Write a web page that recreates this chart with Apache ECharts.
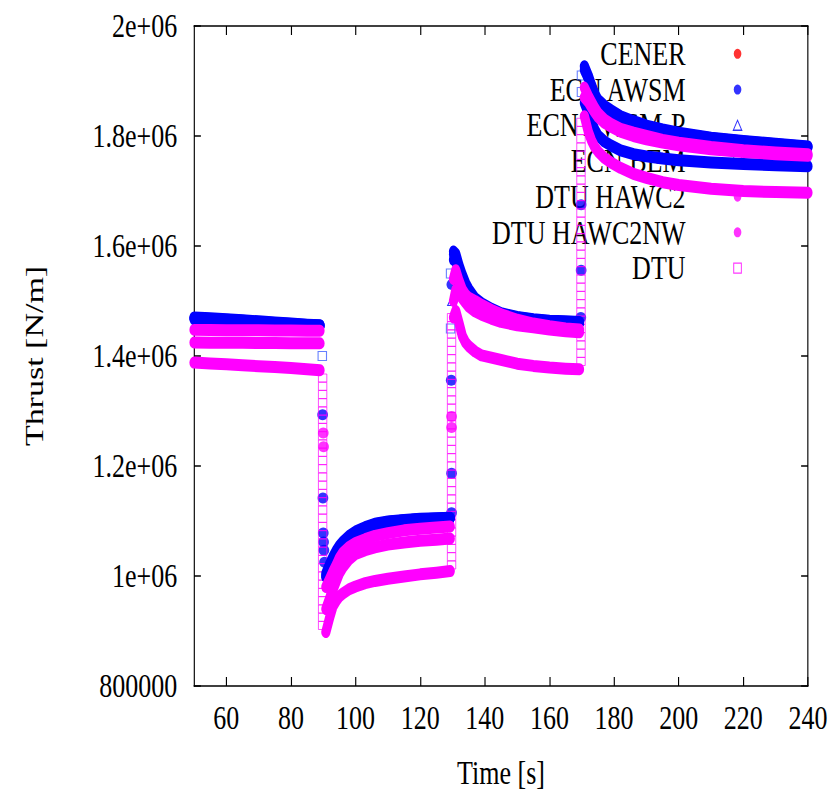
<!DOCTYPE html>
<html><head><meta charset="utf-8">
<script src="https://cdn.jsdelivr.net/npm/echarts@6/dist/echarts.min.js"></script>
<style>
html,body{margin:0;padding:0;background:#fff;overflow:hidden;}
#wrap{width:834px;height:801px;overflow:hidden;position:relative;background:#fff;}
#chart{height:801px;transform-origin:0 0;}
</style></head><body><div id="wrap"><div id="chart"></div></div>
<script>
// ---------- data (N/m vs s) ----------
const seriesNames = ['CENER','ECN AWSM','ECN AWSM-P','ECN BEM','DTU HAWC2','DTU HAWC2NW','DTU'];
const xTicks = [60,80,100,120,140,160,180,200,220,240];
const yTicks = [800000,1000000,1200000,1400000,1600000,1800000,2000000];
const yTickLabels = ['800000','1e+06','1.2e+06','1.4e+06','1.6e+06','1.8e+06','2e+06'];

const seg1T = [50,55,60,65,70,75,80,85,89];
const seg2T = [90.8,92,93,94,95,96,98,100,103,106,110,115,120,125,129.3];
const seg3T = [130.3,131,132,133,134,135,137,139,142,145,150,155,160,165,169.3];
const seg4T = [170.8,172,173,174,175,177,179,182,186,190,195,200,210,220,230,240];

const awsm1 = [1470000,1468500,1467000,1465000,1463000,1461000,1459000,1457000,1456000];
const awsm2 = [1005000,1022000,1035000,1046000,1055000,1062000,1073000,1081000,1089000,1095000,1099000,1102000,1104000,1105000,1106000];
const awsm3 = [1590000,1586000,1565000,1548000,1533000,1522000,1505000,1496000,1486000,1478000,1471000,1467000,1464000,1463000,1462000];
const awsm4 = [1927000,1910000,1893000,1877000,1866000,1855000,1847000,1836000,1827000,1819000,1812000,1806000,1797000,1791000,1786000,1781000];

const awsmp1 = [1469000,1467500,1466000,1464000,1462000,1460000,1458000,1456500,1455000];
const awsmp2 = [998000,1012000,1026000,1038000,1048000,1056000,1068000,1077000,1086000,1093000,1098000,1101000,1103000,1104000,1105000];
const awsmp3 = [1585000,1580000,1560000,1543000,1529000,1518000,1502000,1493000,1484000,1476000,1470000,1466000,1463000,1462000,1461000];
const awsmp4 = [1920000,1905000,1888000,1873000,1862000,1852000,1844000,1834000,1825000,1817000,1810000,1804000,1796000,1790000,1785000,1780000];

const bem1 = [1467000,1465500,1464000,1462500,1461000,1459000,1457500,1456000,1455000];
const bem2 = [1000000,1016000,1029000,1040000,1050000,1058000,1070000,1079000,1087000,1094000,1098000,1101000,1103000,1104000,1105000];
const bem3 = [1575000,1572000,1555000,1540000,1527000,1516000,1500000,1491000,1482000,1475000,1469000,1465000,1462000,1461000,1460000];
const bem4 = [1860000,1842000,1826000,1812000,1801000,1790000,1783000,1774000,1767000,1763000,1759000,1756000,1752000,1749000,1747000,1745000];

const hawc1 = [1447500,1447300,1447000,1446800,1446600,1446400,1446200,1446000,1445800];
const hawc2 = [980000,995000,1008000,1020000,1033000,1042000,1053000,1060000,1067000,1073000,1078000,1083000,1086000,1088000,1090000];
const hawc3 = [1540000,1556000,1537000,1521000,1512000,1506000,1500000,1493000,1484000,1476000,1466000,1459000,1454000,1450000,1448000];
const hawc4 = [1888000,1873000,1862000,1851000,1842000,1830000,1822000,1813000,1806000,1800000,1793000,1788000,1780000,1774000,1770000,1767000];

const nw1 = [1424500,1424300,1424100,1424000,1423800,1423600,1423400,1423200,1423000];
const nw2 = [940000,960000,975000,990000,1005000,1015000,1030000,1040000,1047000,1052000,1057000,1061000,1064000,1066000,1068000];
const nw3 = [1500000,1520000,1515000,1505000,1497000,1490000,1481000,1475000,1468000,1462000,1456000,1452000,1448000,1445000,1443000];
const nw4 = [1870000,1862000,1852000,1843000,1835000,1824000,1817000,1808000,1800000,1794000,1788000,1783000,1776000,1771000,1767000,1764000];

const dtu1 = [1388000,1386500,1385000,1383000,1381500,1380000,1378000,1376000,1374000];
const dtu2 = [898000,925000,945000,955000,963000,968000,976000,981000,987000,991000,995000,999000,1003000,1006000,1009000];
const dtu3 = [1470000,1482000,1460000,1437000,1425000,1418000,1408000,1401000,1397000,1393000,1386000,1382000,1379000,1377000,1376000];
const dtu4 = [1836000,1808000,1792000,1780000,1772000,1760000,1752000,1742000,1731000,1724000,1716000,1711000,1704000,1700000,1698000,1697000];

// isolated points inside the pitch steps
const cenerT = [];
const cenerV = [];
const awsmStepT = [89.8,89.9,90.0,90.1,90.2,90.4,129.6,129.7,129.7,129.8,169.8,169.8,169.7];
const awsmStepV = [1293000,1142000,1078000,1062000,1047000,1025000,1356000,1187000,1115000,1530000,1675000,1556000,1470000];
const awsmpStepT = [91.3,129.8];
const awsmpStepV = [993000,1500000];
const bemStepT = [89.7,129.4,129.4,169.9,169.9];
const bemStepV = [1400000,1550000,1450000,1910000,1880000];
const hawcStepT = [90.0,129.7];
const hawcStepV = [1260000,1290000];
const nwStepT = [90.1,129.7];
const nwStepV = [1235000,1270000];
const dtuColT = [89.8,129.7,169.75];
const dtuCol1 = [1360000,1345000,1330000,1315000,1300000,1285000,1270000,1255000,1240000,1225000,1210000,1195000,1180000,1165000,1150000,1135000,1120000,1105000,1090000,1075000,1060000,1045000,1030000,1015000,1000000,985000,970000,955000,940000,925000,910000];
const dtuCol2 = [1020000,1035000,1050000,1065000,1080000,1095000,1110000,1125000,1140000,1155000,1170000,1185000,1200000,1215000,1230000,1245000,1260000,1275000,1290000,1305000,1320000,1335000,1350000,1365000,1380000,1395000,1410000,1425000,1440000,1455000,1470000];
const dtuCol3 = [1390000,1405000,1420000,1435000,1450000,1465000,1480000,1495000,1510000,1525000,1540000,1555000,1570000,1585000,1600000,1615000,1630000,1645000,1660000,1675000,1690000,1705000,1720000,1735000,1750000,1765000,1780000,1795000,1810000,1825000];

// ---------- layout ----------
const SQ = 0.765;                 // horizontal squeeze of the reference picture
const W = 834 / SQ;
const el = document.getElementById('chart');
el.style.width = W + 'px';
el.style.transform = 'scaleX(' + SQ + ')';

const BLUE = '#0000ff', MAG = '#ff00ff', RED = '#ff0000';
const FONT = 'Liberation Serif';

function bandData(segs) {
  const Ts = [seg1T, seg2T, seg3T, seg4T];
  const out = [];
  segs.forEach((vals, i) => {
    if (i > 0) out.push([Ts[i][0] - 0.5, '-']);
    vals.forEach((v, j) => out.push([Ts[i][j], v]));
  });
  return out;
}
function pts(T, V) { return T.map((t, i) => [t, V[i]]); }
function colPts() {
  const out = [];
  [dtuCol1, dtuCol2, dtuCol3].forEach((col, i) => col.forEach(v => out.push([dtuColT[i], v])));
  return out;
}
function band(name, color, data) {
  return {name, type: 'line', data, showSymbol: false, symbol: 'none', silent: true, animation: false,
    connectNulls: false, clip: true,
    lineStyle: {color, width: 12, cap: 'round', join: 'round'}, itemStyle: {color}};
}
function scat(name, symbol, size, style, data) {
  return {name, type: 'scatter', symbol, symbolSize: size, itemStyle: style, data, silent: true, animation: false};
}
const hollow = c => ({color: 'rgba(0,0,0,0)', borderColor: c, borderWidth: 1.3});

const series = [
  scat('CENER', 'circle', [13, 10], {color: RED}, pts(cenerT, cenerV)),
  scat('ECN AWSM', 'circle', [14, 11], {color: BLUE}, pts(awsmStepT, awsmStepV)),
  band('ECN AWSM', BLUE, bandData([awsm1, awsm2, awsm3, awsm4])),
  scat('ECN AWSM-P', 'triangle', [11, 9], hollow(BLUE), pts(awsmpStepT, awsmpStepV)),
  band('ECN AWSM-P', BLUE, bandData([awsmp1, awsmp2, awsmp3, awsmp4])),
  scat('ECN BEM', 'rect', [11, 9], hollow('#4060ff'), pts(bemStepT, bemStepV)),
  band('ECN BEM', BLUE, bandData([bem1, bem2, bem3, bem4])),
  scat('DTU HAWC2', 'circle', [14, 11], {color: MAG}, pts(hawcStepT, hawcStepV)),
  band('DTU HAWC2', MAG, bandData([hawc1, hawc2, hawc3, hawc4])),
  scat('DTU HAWC2NW', 'circle', [14, 11], {color: MAG}, pts(nwStepT, nwStepV)),
  band('DTU HAWC2NW', MAG, bandData([nw1, nw2, nw3, nw4])),
  scat('DTU', 'rect', [11, 8], {color: 'rgba(0,0,0,0)', borderColor: MAG, borderWidth: 1}, colPts()),
  band('DTU', MAG, bandData([dtu1, dtu2, dtu3, dtu4]))
];

const axisLine = {show: true, onZero: false, lineStyle: {color: '#000', width: 1.5}};
const tickStyle = {color: '#000', width: 1.5};
const labelStyle = {color: '#000', fontFamily: FONT, fontSize: 34};
const yFmt = v => { const i = yTicks.indexOf(v); return i >= 0 ? yTickLabels[i] : ''; };

const SQUARE = 'path://M0,0L10,0L10,10L0,10Z';
const TRI = 'path://M5,0L10,9L0,9Z';
const legendIcons = {
  'CENER': {icon: 'circle', itemStyle: {color: RED}},
  'ECN AWSM': {icon: 'circle', itemStyle: {color: BLUE}},
  'ECN AWSM-P': {icon: TRI, itemStyle: hollow(BLUE)},
  'ECN BEM': {icon: SQUARE, itemStyle: hollow(BLUE)},
  'DTU HAWC2': {icon: 'circle', itemStyle: {color: MAG}},
  'DTU HAWC2NW': {icon: 'circle', itemStyle: {color: MAG}},
  'DTU': {icon: SQUARE, itemStyle: hollow(MAG)}
};

const option = {
  animation: false,
  backgroundColor: '#fff',
  textStyle: {fontFamily: FONT},
  grid: {left: 194 / SQ, right: W - 808 / SQ, top: 26, bottom: 115, containLabel: false},
  legend: {
    orient: 'vertical', align: 'right', right: W - (738 / SQ + 5.6), top: 36,
    itemWidth: 126, itemHeight: 10, itemGap: 0, padding: 0, selectedMode: false, z: 0,
    symbolKeepAspect: true,
    textStyle: {fontFamily: FONT, fontSize: 34, color: '#000', lineHeight: 35.7},
    data: seriesNames.map(n => Object.assign({name: n}, legendIcons[n]))
  },
  xAxis: [
    {type: 'value', position: 'bottom', min: 50, max: 240,
      axisLine, splitLine: {show: false},
      axisTick: {show: true, inside: true, length: 9, customValues: xTicks, lineStyle: tickStyle},
      axisLabel: Object.assign({customValues: xTicks, margin: 15}, labelStyle),
      name: 'Time [s]', nameLocation: 'middle', nameGap: 70, nameTextStyle: labelStyle},
    {type: 'value', position: 'top', min: 50, max: 240,
      axisLine, splitLine: {show: false},
      axisTick: {show: true, inside: true, length: 9, customValues: xTicks, lineStyle: tickStyle},
      axisLabel: {show: false}}
  ],
  yAxis: [
    {type: 'value', position: 'left', min: 800000, max: 2000000, interval: 200000,
      axisLine, splitLine: {show: false},
      axisTick: {show: true, inside: true, length: 9, lineStyle: tickStyle},
      axisLabel: Object.assign({margin: 22, formatter: yFmt}, labelStyle),
      name: 'Thrust [N/m]', nameLocation: 'middle', nameGap: 191, nameTextStyle: labelStyle},
    {type: 'value', position: 'right', min: 800000, max: 2000000, interval: 200000,
      axisLine, splitLine: {show: false},
      axisTick: {show: true, inside: true, length: 9, lineStyle: tickStyle},
      axisLabel: {show: false}}
  ],
  series
};
const chart = echarts.init(el, null, {renderer: 'svg', width: W, height: 801});
chart.setOption(option);
</script>
</body></html>
